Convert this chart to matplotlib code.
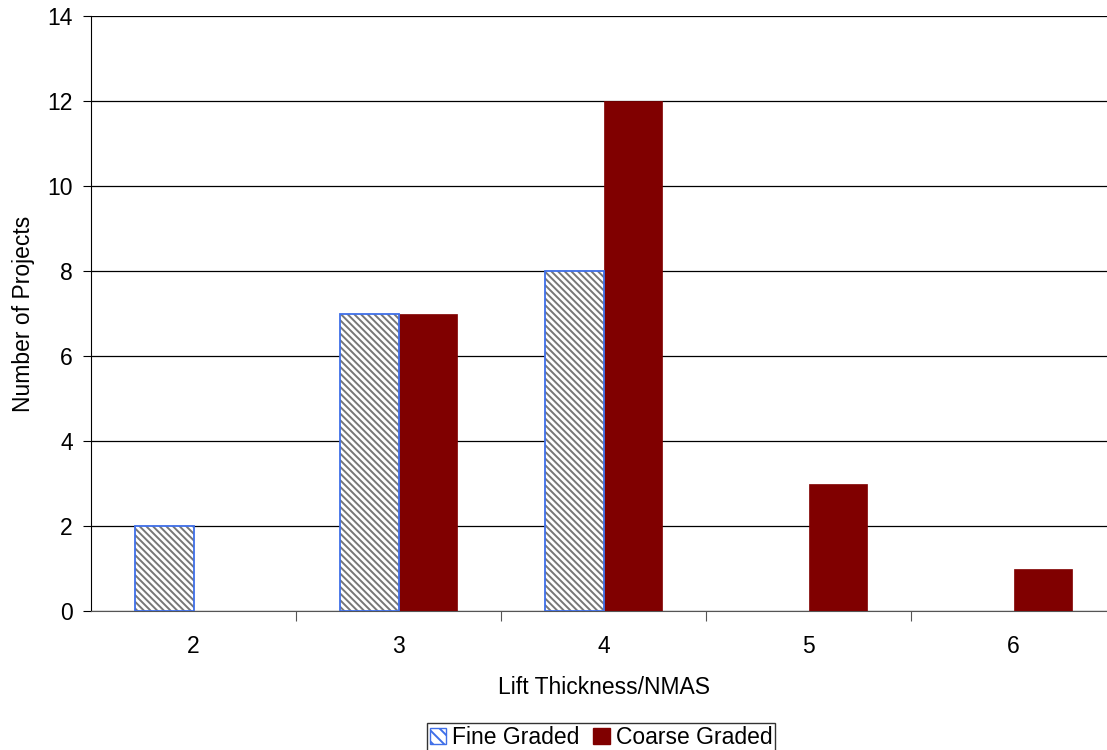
import matplotlib
matplotlib.use("Agg")
import matplotlib.pyplot as plt
from matplotlib.patches import Patch
import numpy as np

plt.rcParams['font.family'] = ['Liberation Sans', 'DejaVu Sans']
plt.rcParams['hatch.linewidth'] = 1.4

# data
categories = ['2', '3', '4', '5', '6']
fine_graded = [2, 7, 8, 0, 0]
coarse_graded = [0, 7, 12, 3, 1]

x = np.arange(len(categories))
w = 0.286
fine = np.array(fine_graded)
coarse = np.array(coarse_graded)
fm = fine > 0
cm_ = coarse > 0

fig = plt.figure(figsize=(11.07, 7.5), dpi=100)
ax = fig.add_axes([0.0822, 0.1853, 0.926, 0.7934])

# fine graded: grey hatch, blue outline
ax.bar(x[fm] - w / 2, fine[fm], w, color='white', edgecolor='#777777',
       hatch='\\' * 5, linewidth=0, zorder=3)
ax.bar(x[fm] - w / 2, fine[fm], w, fill=False, edgecolor='#3f6fe8',
       linewidth=1.3, zorder=4)
ax.bar(x[cm_] + w / 2, coarse[cm_], w, color='#800000', edgecolor='#800000',
       linewidth=0.5, zorder=3)

ax.set_xlim(-0.5, len(categories) - 0.5)
ax.set_ylim(0, 14)
ax.set_yticks(np.arange(0, 15, 2))
ax.yaxis.grid(True, color='black', linewidth=0.9, zorder=0)

# ticks between categories, labels at centres
ax.set_xticks(np.arange(0.5, len(categories) - 0.5, 1))
ax.set_xticklabels([])
ax.set_xticks(x, minor=True)
ax.set_xticklabels(categories, minor=True)
ax.tick_params(axis='x', which='major', length=7, color='#555555')
ax.tick_params(axis='x', which='minor', length=0, pad=17, labelsize=16.5)
ax.tick_params(axis='y', length=6, pad=7, labelsize=16.5)

for s in ['top', 'right']:
    ax.spines[s].set_visible(False)
ax.spines['bottom'].set_color('#555555')

ax.set_xlabel('Lift Thickness/NMAS', fontsize=16.5, labelpad=13)
ax.set_ylabel('Number of Projects', fontsize=16.5, labelpad=9)

handles = [Patch(facecolor='white', edgecolor='#777777', hatch='\\\\\\'),
           Patch(facecolor='#800000', edgecolor='#800000')]
leg = fig.legend(handles, ['Fine Graded', 'Coarse Graded'], loc='center',
                 bbox_to_anchor=(0.543, 0.017), ncol=2, fontsize=16.5,
                 frameon=True, fancybox=False, edgecolor='black',
                 handlelength=0.72, handleheight=0.72, handletextpad=0.25,
                 columnspacing=0.6, borderpad=0.12, borderaxespad=0)
leg.get_frame().set_linewidth(1.0)
leg.legend_handles[0].set_edgecolor('#3f6fe8')

fig.savefig('out.png', dpi=100)
